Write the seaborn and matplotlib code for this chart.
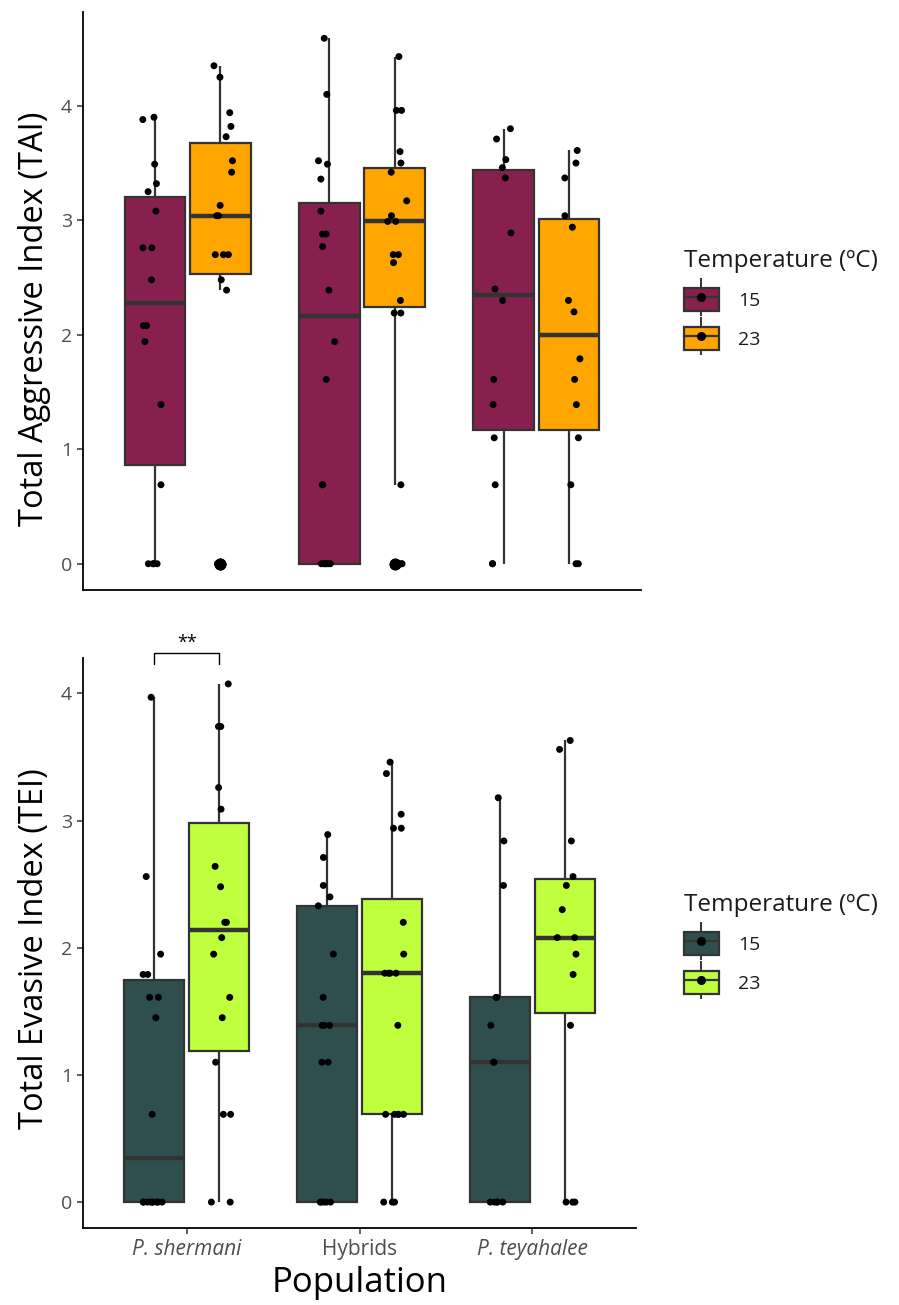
import numpy as np
import pandas as pd
import matplotlib
matplotlib.use("Agg")
import matplotlib.pyplot as plt
import seaborn as sns
from matplotlib.patches import Patch
from matplotlib.lines import Line2D
from matplotlib.legend_handler import HandlerTuple

# ---------------- data ----------------
populations = ["P. shermani", "Hybrids", "P. teyahalee"]
temperatures = ["15", "23"]

# Total Aggressive Index (TAI)
tai_shermani_15 = [0, 0, 0, 0, 0.69, 1.39, 1.94, 2.08, 2.08, 2.48, 2.76, 2.76, 3.08, 3.25, 3.32, 3.49, 3.88, 3.90]
tai_shermani_23 = [0, 0, 0, 2.39, 2.48, 2.70, 2.70, 2.70, 3.04, 3.04, 3.13, 3.42, 3.52, 3.73, 3.82, 3.94, 4.25, 4.35]
tai_hybrids_15 = [0, 0, 0, 0, 0, 0, 0.69, 0.69, 1.61, 1.94, 2.39, 2.77, 2.88, 2.88, 3.08, 3.36, 3.49, 3.52, 4.10, 4.59]
tai_hybrids_23 = [0, 0, 0.69, 2.19, 2.19, 2.30, 2.63, 2.70, 2.70, 2.99, 2.99, 3.04, 3.17, 3.42, 3.50, 3.60, 3.96, 3.96, 4.43]
tai_teyahalee_15 = [0, 0, 0.69, 1.10, 1.39, 1.61, 2.30, 2.40, 2.89, 3.37, 3.46, 3.53, 3.71, 3.80]
tai_teyahalee_23 = [0, 0, 0.69, 1.10, 1.39, 1.61, 1.79, 2.20, 2.30, 2.94, 3.04, 3.37, 3.50, 3.61]

# Total Evasive Index (TEI)
tei_shermani_15 = [0, 0, 0, 0, 0, 0, 0, 0, 0, 0.69, 1.45, 1.61, 1.61, 1.79, 1.79, 1.95, 2.56, 3.97]
tei_shermani_23 = [0, 0, 0.69, 0.69, 1.10, 1.45, 1.61, 1.95, 2.08, 2.20, 2.20, 2.48, 2.64, 3.09, 3.26, 3.74, 3.74, 4.075]
tei_hybrids_15 = [0, 0, 0, 0, 0, 1.10, 1.10, 1.39, 1.39, 1.39, 1.61, 1.95, 2.33, 2.40, 2.49, 2.71, 2.89]
tei_hybrids_23 = [0, 0, 0, 0.69, 0.69, 0.69, 0.69, 0.69, 1.39, 1.80, 1.80, 1.80, 1.80, 1.95, 2.20, 2.94, 2.94, 3.05, 3.37, 3.46]
tei_teyahalee_15 = [0, 0, 0, 0, 0, 1.10, 1.10, 1.39, 1.61, 1.61, 2.49, 2.84, 3.18]
tei_teyahalee_23 = [0, 0, 0, 1.39, 1.79, 1.95, 2.08, 2.08, 2.30, 2.49, 2.56, 2.84, 3.56, 3.63]

significance_label = "**"

tai_colors = {"15": "#87204F", "23": "#FFA500"}
tei_colors = {"15": "#2F4F4F", "23": "#C0FF3E"}


def make_frame(groups):
    rows = []
    for pop, temp, vals in groups:
        for v in vals:
            rows.append((pop, temp, v))
    return pd.DataFrame(rows, columns=["Population", "Temperature", "value"])


tai_df = make_frame([
    ("P. shermani", "15", tai_shermani_15), ("P. shermani", "23", tai_shermani_23),
    ("Hybrids", "15", tai_hybrids_15), ("Hybrids", "23", tai_hybrids_23),
    ("P. teyahalee", "15", tai_teyahalee_15), ("P. teyahalee", "23", tai_teyahalee_23),
])
tei_df = make_frame([
    ("P. shermani", "15", tei_shermani_15), ("P. shermani", "23", tei_shermani_23),
    ("Hybrids", "15", tei_hybrids_15), ("Hybrids", "23", tei_hybrids_23),
    ("P. teyahalee", "15", tei_teyahalee_15), ("P. teyahalee", "23", tei_teyahalee_23),
])

# ---------------- style ----------------
sns.set_theme(style="white")
plt.rcParams['font.family'] = ['Open Sans', 'DejaVu Sans']
plt.rcParams['axes.linewidth'] = 1.3
plt.rcParams['axes.edgecolor'] = 'black'

W, H = 899, 1305
fig = plt.figure(figsize=(W / 100, H / 100), dpi=100)
ax1 = fig.add_axes([83 / W, 1 - 590 / H, (641 - 83) / W, (590 - 12) / H])
ax2 = fig.add_axes([83 / W, 1 - 1228 / H, (636 - 83) / W, (1228 - 658) / H])

LINE = "#333333"
GREY = "#4D4D4D"


def draw(ax, df, palette, seed):
    sns.boxplot(data=df, x="Population", y="value", hue="Temperature",
                order=populations, hue_order=temperatures, palette=palette,
                width=0.75, gap=0.07, linewidth=1.6, linecolor=LINE,
                saturation=1, showcaps=False, fliersize=7.5,
                flierprops=dict(marker='o', markerfacecolor='black',
                                markeredgecolor='black'),
                medianprops=dict(linewidth=3.2, color=LINE),
                ax=ax, legend=False)
    np.random.seed(seed)
    sns.stripplot(data=df, x="Population", y="value", hue="Temperature",
                  order=populations, hue_order=temperatures,
                  palette={"15": "black", "23": "black"}, dodge=True,
                  jitter=0.12, size=5.0, linewidth=0, ax=ax, legend=False)
    ax.set_xlim(-0.6, 2.6)
    for s in ["top", "right"]:
        ax.spines[s].set_visible(False)
    ax.set_yticks([0, 1, 2, 3, 4])
    ax.tick_params(axis='y', which='both', left=True, length=4, width=1.1,
                   color=LINE, labelsize=14, labelcolor=GREY, pad=4)


draw(ax1, tai_df, tai_colors, 3)
draw(ax2, tei_df, tei_colors, 7)

ymax1 = max(tai_df["value"])
ax1.set_ylim(-0.05 * ymax1, ymax1 * 1.05)
ymax2 = max(tei_df["value"])
ax2.set_ylim(-0.05 * ymax2, ymax2 * 1.05)

ax1.set_xlabel("")
ax1.set_xticks([])
ax1.set_ylabel("Total Aggressive Index (TAI)", fontsize=23.5, color="black")
ax2.set_ylabel("Total Evasive Index (TEI)", fontsize=23.5, color="black")
ax1.yaxis.set_label_coords(-0.057, 0.47)
ax2.yaxis.set_label_coords(-0.058, 0.49)
ax2.set_xlabel("Population", fontsize=25, color="black", labelpad=4)
ax2.set_xticks(range(len(populations)))
ax2.set_xticklabels(populations)
ax2.tick_params(axis='x', bottom=True, length=4, width=1.1, color=LINE,
                labelsize=15, labelcolor=GREY, pad=4)
for lab in ax2.get_xticklabels():
    if lab.get_text().startswith("P."):
        lab.set_fontstyle("italic")

# significance bracket between the two P. shermani boxes
top_sh = max(tei_shermani_15 + tei_shermani_23)
yb = top_sh + 0.245
ax2.plot([-0.1875, -0.1875, 0.1875, 0.1875], [yb - 0.09, yb, yb, yb - 0.09],
         color="black", lw=1.0, clip_on=False)
ax2.text(0, yb + 0.005, significance_label, ha="center", va="bottom",
         fontsize=13, color="black", clip_on=False)


# ---------------- legends ----------------
def legend_handles(palette):
    hs = []
    for t in temperatures:
        whisk = Line2D([], [], color=LINE, lw=0, marker='|', markersize=27,
                       markeredgewidth=1.4)
        box = Patch(facecolor=palette[t], edgecolor=LINE, linewidth=1.6)
        med = Line2D([], [], color=LINE, lw=1.6)
        dot = Line2D([], [], color='black', lw=0, marker='o', markersize=5.5)
        hs.append((whisk, box, med, dot))
    return hs


for ax, pal, ytitle in [(ax1, tai_colors, 241), (ax2, tei_colors, 885)]:
    leg = ax.legend(legend_handles(pal), temperatures, title="Temperature (ºC)",
                    loc="upper left", bbox_to_anchor=(676 / W, 1 - ytitle / H),
                    bbox_transform=fig.transFigure, frameon=False,
                    handler_map={tuple: HandlerTuple(ndivide=1, pad=0)},
                    handlelength=1.8, handleheight=1.4, handletextpad=1.0,
                    labelspacing=0.85, fontsize=14, title_fontsize=17.5,
                    alignment="left", borderaxespad=0)
    leg._legend_box.sep = 11
    for txt in leg.get_texts():
        txt.set_color("#1A1A1A")
    leg.get_title().set_color("#1A1A1A")

fig.savefig("out.png", dpi=100)
